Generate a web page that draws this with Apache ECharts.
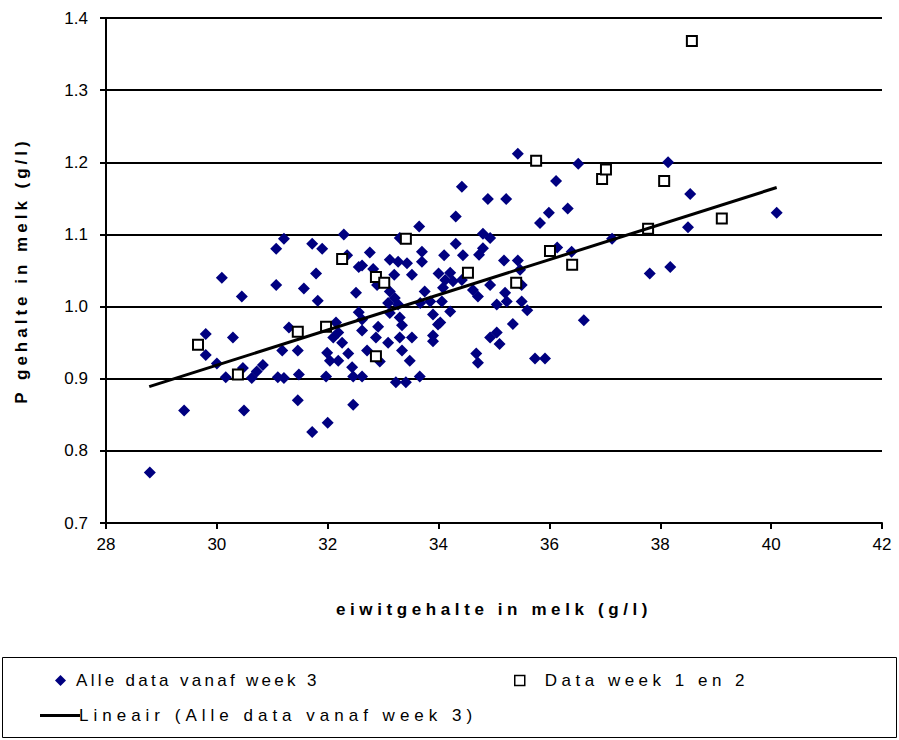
<!DOCTYPE html>
<html>
<head>
<meta charset="utf-8">
<script src="https://cdn.jsdelivr.net/npm/echarts@6/dist/echarts.min.js"></script>
<style>
html,body{margin:0;padding:0;background:#fff;}
#chart{width:899px;height:740px;}
</style>
</head>
<body>
<div id="chart"></div>
<script>
// Series 1: Alle data vanaf week 3 (eiwitgehalte, P gehalte)
const allX = [28.79,29.41,29.80,29.80,30.00,30.09,30.16,30.29,30.45,30.49,30.47,30.63,30.72,30.83,31.07,31.07,31.21,31.10,31.18,31.21,
  31.30,31.46,31.46,31.48,31.57,31.72,31.72,31.79,31.82,31.90,31.97,31.99,32.00,32.04,32.15,32.19,32.19,32.10,32.26,32.29,
  32.35,32.37,32.44,32.46,32.46,32.51,32.56,32.56,32.62,32.62,32.62,32.62,32.71,32.76,32.82,32.89,32.91,32.87,32.94,33.09,
  33.09,33.12,33.12,33.12,33.20,33.21,33.23,33.27,33.27,33.30,33.30,33.30,33.34,33.34,33.41,33.43,33.48,33.52,33.52,33.65,
  33.66,33.70,33.70,33.67,33.75,33.85,33.90,33.90,33.90,33.99,34.00,34.03,34.06,34.08,34.10,34.12,34.21,34.21,34.26,34.31,
  34.31,34.42,34.42,34.44,34.62,34.68,34.71,34.71,34.73,34.80,34.80,34.89,34.93,34.93,34.93,35.05,35.05,35.10,35.18,35.20,
  35.22,35.23,35.34,35.43,35.43,35.47,35.50,35.50,35.60,35.74,35.83,35.92,35.99,36.12,36.14,36.33,36.40,36.52,36.62,37.13,
  37.81,38.14,38.18,38.50,38.54,40.10];
const allY = [0.770,0.856,0.962,0.933,0.921,1.040,0.902,0.957,1.014,0.856,0.915,0.901,0.910,0.919,1.080,1.030,1.094,0.902,0.939,0.901,
  0.971,0.939,0.870,0.906,1.025,1.087,0.826,1.046,1.008,1.080,0.903,0.936,0.839,0.925,0.978,0.964,0.925,0.957,0.950,1.100,
  1.071,0.935,0.916,0.903,0.864,1.019,1.055,0.992,1.057,0.967,0.903,0.982,0.939,1.075,1.052,1.030,0.972,0.957,0.924,1.005,
  0.950,1.065,1.021,0.991,1.044,1.012,0.895,1.062,1.003,1.095,0.985,0.957,0.974,0.939,0.895,1.060,0.925,1.044,0.957,1.111,
  0.903,1.076,1.062,1.005,1.021,1.007,0.989,0.960,0.952,0.975,1.046,0.978,1.007,1.026,1.071,1.037,1.047,0.993,1.035,1.125,
  1.087,1.166,1.037,1.071,1.023,0.935,0.922,1.014,1.072,1.081,1.101,1.149,1.095,1.030,0.957,1.003,0.964,0.948,1.064,1.019,
  1.149,1.007,0.976,1.212,1.064,1.051,1.030,1.007,0.995,0.928,1.116,0.928,1.130,1.174,1.082,1.136,1.076,1.198,0.981,1.094,
  1.046,1.200,1.055,1.110,1.156,1.130];

// Series 2: Data week 1 en 2
const earlyX = [29.66,30.38,31.46,31.97,32.26,32.87,32.87,33.02,33.41,34.53,35.40,35.76,36.01,36.41,36.95,37.02,37.78,38.07,39.11,38.57];
const earlyY = [0.947,0.906,0.965,0.972,1.066,1.041,0.931,1.033,1.094,1.047,1.033,1.202,1.077,1.058,1.177,1.190,1.108,1.174,1.122,1.368];

// Trend line endpoints (Lineair)
const trendX = [28.78, 40.10];
const trendY = [0.889, 1.165];

// Axis tick settings
const xTicks = [28, 30, 32, 34, 36, 38, 40, 42];
const yTicks = [0.7, 0.8, 0.9, 1.0, 1.1, 1.2, 1.3, 1.4];

const names = ['Alle data vanaf week 3', 'Data week 1 en 2', 'Lineair (Alle data vanaf week 3)'];
const xTitle = 'eiwitgehalte in melk (g/l)';
const yTitle = 'P gehalte in melk (g/l)';

const zip = (a, b) => a.map((v, i) => [v, b[i]]);
const FONT = 'Liberation Sans, Arial, sans-serif';
const legendText = {fontSize: 17, color: '#000', fontFamily: FONT};

const chart = echarts.init(document.getElementById('chart'), null, {renderer: 'svg'});
chart.setOption({
  backgroundColor: '#fff',
  animation: false,
  textStyle: {fontFamily: FONT},
  grid: {left: 106, right: 17, top: 18, bottom: 217},
  xAxis: {
    type: 'value', min: xTicks[0], max: xTicks[xTicks.length - 1], interval: 2,
    name: xTitle, nameLocation: 'middle', nameGap: 78,
    nameTextStyle: {fontSize: 17, fontWeight: 'bold', color: '#000', fontFamily: FONT},
    axisLine: {lineStyle: {color: '#000', width: 2}},
    axisTick: {show: true, length: 6, lineStyle: {color: '#000', width: 2}},
    axisLabel: {fontSize: 17, color: '#000', margin: 13, fontFamily: FONT},
    splitLine: {show: false}
  },
  yAxis: {
    type: 'value', min: yTicks[0], max: yTicks[yTicks.length - 1], interval: 0.1,
    name: yTitle, nameLocation: 'middle', nameGap: 76,
    nameTextStyle: {fontSize: 17, fontWeight: 'bold', color: '#000', fontFamily: FONT},
    axisLine: {show: true, lineStyle: {color: '#000', width: 2}},
    axisTick: {show: true, length: 6, lineStyle: {color: '#000', width: 2}},
    axisLabel: {fontSize: 17, color: '#000', margin: 18, fontFamily: FONT,
      formatter: v => v.toFixed(1)},
    splitLine: {show: true, lineStyle: {color: '#000', width: 2}}
  },
  legend: [
    {data: [{name: names[0], icon: 'diamond'}], left: 50, top: 667, itemWidth: 11, itemHeight: 11,
      itemStyle: {color: '#000080', opacity: 1},
      textStyle: Object.assign({padding: [0, 0, 0, 5]}, legendText)},
    {data: [{name: names[1], icon: 'rect'}], left: 509, top: 667, itemWidth: 10, itemHeight: 10,
      itemStyle: {color: '#fff', borderColor: '#000', borderWidth: 1.5},
      textStyle: Object.assign({padding: [0, 0, 0, 15]}, legendText)},
    {data: [{name: names[2], icon: 'rect'}], left: 35, top: 702, itemWidth: 40, itemHeight: 3,
      itemStyle: {color: '#000'},
      textStyle: Object.assign({padding: [0, 0, 0, -6]}, legendText)}
  ],
  graphic: [{
    type: 'rect', z: -1, silent: true,
    shape: {x: 2.5, y: 657.5, width: 894, height: 80},
    style: {fill: 'none', stroke: '#000', lineWidth: 1}
  }],
  series: [
    {
      name: names[0], type: 'scatter', symbol: 'diamond', symbolSize: 12,
      itemStyle: {color: '#000080', opacity: 1},
      data: zip(allX, allY), z: 2
    },
    {
      name: names[1], type: 'scatter', symbol: 'rect', symbolSize: 10,
      itemStyle: {color: '#fff', borderColor: '#000', borderWidth: 2, opacity: 1},
      data: zip(earlyX, earlyY), z: 3
    },
    {
      name: names[2], type: 'line', showSymbol: false, symbol: 'none',
      lineStyle: {color: '#000', width: 3},
      itemStyle: {color: '#000'},
      data: zip(trendX, trendY), z: 4
    }
  ]
});

// Excel-style wide letter spacing for legend entries and axis titles
const spaced = {};
spaced[names[0]] = 3.3; spaced[names[1]] = 4.5; spaced[names[2]] = 5.0;
spaced[xTitle] = 4.6; spaced[yTitle] = 4.0;
function applySpacing() {
  document.querySelectorAll('#chart svg text').forEach(t => {
    const s = spaced[t.textContent];
    if (s !== undefined) t.style.letterSpacing = s + 'px';
  });
}
chart.on('finished', applySpacing);
applySpacing();
requestAnimationFrame(applySpacing);
setTimeout(applySpacing, 50);
setTimeout(applySpacing, 300);
</script>
</body>
</html>
